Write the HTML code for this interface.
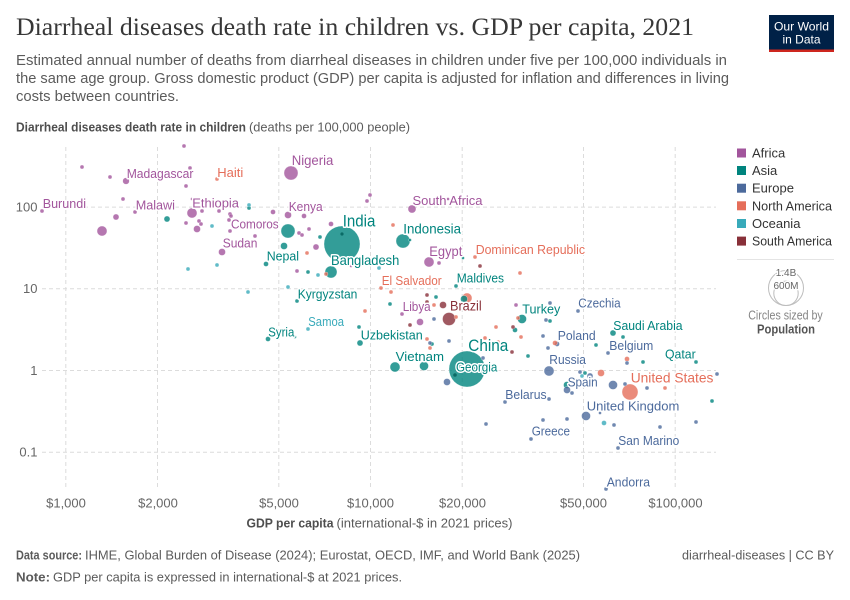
<!DOCTYPE html>
<html><head><meta charset="utf-8"><style>
html,body{margin:0;padding:0;background:#fff;}
svg{display:block;font-family:"Liberation Sans",sans-serif;}
.A{fill:#A2559C}.S{fill:#00847E}.E{fill:#4C6A9C}.N{fill:#E56E5A}.O{fill:#38AABA}.M{fill:#883039}
.pts circle{fill-opacity:.8;stroke:#fff;stroke-width:.4;stroke-opacity:.7}
.lab text{stroke:#fff;stroke-width:3;paint-order:stroke;stroke-linejoin:round;font-size:13px}
.lA{fill:#A2559C}.lS{fill:#00847E}.lE{fill:#4C6A9C}.lN{fill:#E56E5A}.lO{fill:#38AABA}.lM{fill:#883039}
.grid line{stroke:#dcdcdc;stroke-width:1;stroke-dasharray:4,3}
</style></head><body>
<svg width="850" height="600" viewBox="0 0 850 600" xmlns="http://www.w3.org/2000/svg">
<rect width="850" height="600" fill="#fff"/>
<!-- Header -->
<text x="16" y="35" font-family="Liberation Serif" font-size="25" fill="#373737" textLength="678" lengthAdjust="spacingAndGlyphs">Diarrheal diseases death rate in children vs. GDP per capita, 2021</text>
<text x="16" y="65" font-size="15" fill="#5b5b5b" textLength="711" lengthAdjust="spacingAndGlyphs">Estimated annual number of deaths from diarrheal diseases in children under five per 100,000 individuals in</text>
<text x="16" y="83" font-size="15" fill="#5b5b5b" textLength="713" lengthAdjust="spacingAndGlyphs">the same age group. Gross domestic product (GDP) per capita is adjusted for inflation and differences in living</text>
<text x="16" y="101" font-size="15" fill="#5b5b5b" textLength="163" lengthAdjust="spacingAndGlyphs">costs between countries.</text>
<!-- Logo -->
<rect x="769" y="15" width="65" height="37" fill="#002147"/>
<rect x="769" y="49.5" width="65" height="2.5" fill="#ce261e"/>
<text x="801.5" y="30.5" font-size="12" fill="#fff" text-anchor="middle" textLength="55" lengthAdjust="spacingAndGlyphs">Our World</text>
<text x="801.5" y="43.5" font-size="12" fill="#fff" text-anchor="middle" textLength="38" lengthAdjust="spacingAndGlyphs">in Data</text>
<!-- Y axis title -->
<text x="16" y="131.5" font-size="13" font-weight="bold" fill="#4e4e4e" textLength="230" lengthAdjust="spacingAndGlyphs">Diarrheal diseases death rate in children</text>
<text x="249" y="131.5" font-size="13" fill="#5b5b5b" textLength="161" lengthAdjust="spacingAndGlyphs">(deaths per 100,000 people)</text>
<!-- Grid -->
<g class="grid">
<line x1="42" y1="207.1" x2="716" y2="207.1"/>
<line x1="42" y1="288.8" x2="716" y2="288.8"/>
<line x1="42" y1="370.5" x2="716" y2="370.5"/>
<line x1="42" y1="452.2" x2="716" y2="452.2"/>
<line x1="65.8" y1="147" x2="65.8" y2="488"/>
<line x1="157.5" y1="147" x2="157.5" y2="488"/>
<line x1="278.8" y1="147" x2="278.8" y2="488"/>
<line x1="370.5" y1="147" x2="370.5" y2="488"/>
<line x1="462.2" y1="147" x2="462.2" y2="488"/>
<line x1="583.5" y1="147" x2="583.5" y2="488"/>
<line x1="675.2" y1="147" x2="675.2" y2="488"/>
</g>
<!-- Y labels -->
<g font-size="13" fill="#666" text-anchor="end">
<text x="37.5" y="211.5">100</text>
<text x="37.5" y="293">10</text>
<text x="37.5" y="375">1</text>
<text x="37.5" y="456.5">0.1</text>
</g>
<!-- X labels -->
<g font-size="13" fill="#666" text-anchor="middle">
<text x="66" y="507.5">$1,000</text>
<text x="158" y="507.5">$2,000</text>
<text x="279" y="507.5">$5,000</text>
<text x="370.5" y="507.5">$10,000</text>
<text x="462.5" y="507.5">$20,000</text>
<text x="583.5" y="507.5">$50,000</text>
<text x="675.5" y="507.5">$100,000</text>
</g>
<text x="246.5" y="527.5" font-size="13" font-weight="bold" fill="#4e4e4e" textLength="87" lengthAdjust="spacingAndGlyphs">GDP per capita</text>
<text x="336.5" y="527.5" font-size="13" fill="#5b5b5b" textLength="176" lengthAdjust="spacingAndGlyphs">(international-$ in 2021 prices)</text>

<!-- Points -->
<g class="pts">
<!-- large -->
<circle class="S" cx="342" cy="244" r="18"/>
<circle class="S" cx="467" cy="369" r="18"/>
<circle class="N" cx="630" cy="392" r="8"/>
<circle class="S" cx="288" cy="231" r="7"/>
<circle class="S" cx="403" cy="241" r="7"/>
<circle class="A" cx="291" cy="173" r="7"/>
<circle class="M" cx="449" cy="319" r="6.5"/>
<circle class="S" cx="331" cy="272" r="6"/>
<circle class="A" cx="192" cy="213" r="5"/>
<circle class="A" cx="102" cy="231" r="5"/>
<circle class="A" cx="429" cy="262" r="5"/>
<circle class="E" cx="549" cy="371" r="5"/>
<circle class="S" cx="395" cy="367" r="5"/>
<circle class="N" cx="467" cy="298" r="5"/>
<circle class="S" cx="424" cy="366" r="4.5"/>
<circle class="S" cx="522" cy="319" r="4.5"/>
<circle class="E" cx="613" cy="385" r="4.5"/>
<circle class="E" cx="586" cy="416" r="4.5"/>
<circle class="A" cx="412" cy="209" r="4"/>
<!-- medium -->
<circle class="A" cx="222" cy="252" r="3.5"/>
<circle class="A" cx="197" cy="229" r="3.5"/>
<circle class="A" cx="288" cy="215" r="3.5"/>
<circle class="A" cx="420" cy="322" r="3.5"/>
<circle class="S" cx="284" cy="246" r="3.5"/>
<circle class="S" cx="464" cy="299" r="3.5"/>
<circle class="S" cx="567" cy="385" r="3.5"/>
<circle class="E" cx="447" cy="382" r="3.5"/>
<circle class="E" cx="567" cy="390" r="3.5"/>
<circle class="M" cx="443" cy="305" r="3.5"/>
<circle class="N" cx="601" cy="373" r="3.5"/>
<circle class="A" cx="126" cy="181" r="3.3"/>
<circle class="A" cx="116" cy="217" r="3"/>
<circle class="A" cx="316" cy="247" r="3"/>
<circle class="S" cx="167" cy="219" r="3"/>
<circle class="S" cx="360" cy="343" r="3"/>
<circle class="S" cx="613" cy="333" r="3"/>
<circle class="E" cx="590" cy="376" r="3"/>
<circle class="A" cx="273" cy="212" r="2.5"/>
<circle class="A" cx="304" cy="216" r="2.5"/>
<circle class="A" cx="331" cy="224" r="2.5"/>
<circle class="S" cx="266" cy="264" r="2.5"/>
<circle class="S" cx="268" cy="339" r="2.5"/>
<circle class="S" cx="515" cy="330" r="2.5"/>
<circle class="E" cx="557" cy="344" r="2.5"/>
<circle class="N" cx="555" cy="343" r="2.5"/>
<circle class="N" cx="627" cy="359" r="2.5"/>
<circle class="O" cx="604" cy="423" r="2.5"/>
<!-- small Africa -->
<circle class="A" cx="184" cy="146" r="2"/>
<circle class="A" cx="82" cy="167" r="2"/>
<circle class="A" cx="190" cy="168" r="2"/>
<circle class="A" cx="110" cy="177" r="2"/>
<circle class="A" cx="186" cy="186" r="2"/>
<circle class="A" cx="123" cy="199" r="2"/>
<circle class="A" cx="192" cy="199" r="1.5"/>
<circle class="A" cx="42" cy="211" r="2"/>
<circle class="A" cx="135" cy="212" r="2"/>
<circle class="A" cx="202" cy="211" r="2"/>
<circle class="A" cx="219" cy="211" r="2"/>
<circle class="A" cx="230" cy="214" r="2"/>
<circle class="A" cx="231" cy="216" r="2"/>
<circle class="A" cx="186" cy="223" r="2"/>
<circle class="A" cx="199" cy="221" r="2"/>
<circle class="A" cx="201" cy="224" r="2"/>
<circle class="A" cx="229" cy="220" r="2"/>
<circle class="A" cx="230" cy="231" r="2"/>
<circle class="A" cx="255" cy="236" r="2"/>
<circle class="A" cx="370" cy="195" r="2"/>
<circle class="A" cx="367" cy="201" r="2"/>
<circle class="A" cx="448" cy="199" r="1.5"/>
<circle class="A" cx="309" cy="229" r="2"/>
<circle class="A" cx="299" cy="233" r="2"/>
<circle class="A" cx="302" cy="235" r="2"/>
<circle class="A" cx="297" cy="271" r="2"/>
<circle class="A" cx="351" cy="266" r="1.5"/>
<circle class="A" cx="439" cy="263" r="2"/>
<circle class="A" cx="402" cy="314" r="2"/>
<circle class="A" cx="516" cy="305" r="2"/>
<!-- small Asia -->
<circle class="S" cx="249" cy="208" r="2"/>
<circle class="S" cx="320" cy="237" r="2"/>
<circle class="S" cx="410" cy="240" r="1.5"/>
<circle class="S" cx="308" cy="272" r="2"/>
<circle class="S" cx="463" cy="258" r="1.5"/>
<circle class="S" cx="297" cy="301" r="2"/>
<circle class="S" cx="456" cy="286" r="2"/>
<circle class="S" cx="390" cy="304" r="2"/>
<circle class="S" cx="436" cy="297" r="2"/>
<circle class="S" cx="359" cy="327" r="2"/>
<circle class="S" cx="295" cy="337" r="1.5"/>
<circle class="S" cx="432" cy="344" r="2"/>
<circle class="S" cx="550" cy="321" r="2"/>
<circle class="S" cx="528" cy="356" r="2"/>
<circle class="S" cx="623" cy="337" r="2"/>
<circle class="S" cx="596" cy="345" r="2"/>
<circle class="S" cx="643" cy="362" r="2"/>
<circle class="S" cx="696" cy="362" r="2"/>
<circle class="S" cx="585" cy="373" r="2"/>
<circle class="S" cx="712" cy="401" r="2"/>
<!-- small Europe -->
<circle class="E" cx="434" cy="319" r="2"/>
<circle class="E" cx="430" cy="343" r="2"/>
<circle class="E" cx="449" cy="341" r="2"/>
<circle class="E" cx="550" cy="303" r="2"/>
<circle class="E" cx="578" cy="311" r="2"/>
<circle class="E" cx="546" cy="320" r="2"/>
<circle class="E" cx="543" cy="336" r="2"/>
<circle class="E" cx="548" cy="348" r="2"/>
<circle class="E" cx="483" cy="358" r="2"/>
<circle class="E" cx="580" cy="372" r="2"/>
<circle class="E" cx="608" cy="353" r="2"/>
<circle class="E" cx="627" cy="363" r="2"/>
<circle class="E" cx="717" cy="374" r="2"/>
<circle class="E" cx="625" cy="384" r="2"/>
<circle class="E" cx="647" cy="388" r="2"/>
<circle class="E" cx="572" cy="393" r="2"/>
<circle class="E" cx="549" cy="399" r="2"/>
<circle class="E" cx="505" cy="402" r="2"/>
<circle class="E" cx="600" cy="413" r="1.5"/>
<circle class="E" cx="614" cy="425" r="2"/>
<circle class="E" cx="543" cy="420" r="2"/>
<circle class="E" cx="567" cy="419" r="2"/>
<circle class="E" cx="486" cy="424" r="2"/>
<circle class="E" cx="531" cy="439" r="2"/>
<circle class="E" cx="660" cy="427" r="2"/>
<circle class="E" cx="696" cy="422" r="2"/>
<circle class="E" cx="618" cy="448" r="2"/>
<circle class="E" cx="606" cy="489" r="2"/>
<!-- small North America -->
<circle class="N" cx="217" cy="179" r="2"/>
<circle class="N" cx="393" cy="225" r="2"/>
<circle class="N" cx="307" cy="253" r="2"/>
<circle class="N" cx="326" cy="274" r="2"/>
<circle class="N" cx="475" cy="257" r="2"/>
<circle class="N" cx="520" cy="273" r="2"/>
<circle class="N" cx="381" cy="288" r="2"/>
<circle class="N" cx="391" cy="292" r="2"/>
<circle class="N" cx="434" cy="305" r="2"/>
<circle class="N" cx="365" cy="311" r="2"/>
<circle class="N" cx="456" cy="317" r="2"/>
<circle class="N" cx="427" cy="339" r="2"/>
<circle class="N" cx="430" cy="348" r="2"/>
<circle class="N" cx="518" cy="318" r="2"/>
<circle class="N" cx="496" cy="327" r="2"/>
<circle class="N" cx="521" cy="337" r="2"/>
<circle class="N" cx="485" cy="338" r="2"/>
<circle class="N" cx="498" cy="342" r="2"/>
<circle class="N" cx="665" cy="388" r="2"/>
<!-- small Oceania -->
<circle class="O" cx="249" cy="205" r="2"/>
<circle class="O" cx="212" cy="226" r="2"/>
<circle class="O" cx="188" cy="269" r="2"/>
<circle class="O" cx="217" cy="265" r="2"/>
<circle class="O" cx="318" cy="275" r="2"/>
<circle class="O" cx="379" cy="268" r="2"/>
<circle class="O" cx="288" cy="287" r="2"/>
<circle class="O" cx="248" cy="292" r="2"/>
<circle class="O" cx="308" cy="329" r="2"/>
<circle class="O" cx="582" cy="376" r="2"/>
<!-- small South America -->
<circle class="M" cx="480" cy="266" r="2"/>
<circle class="M" cx="427" cy="295" r="2"/>
<circle class="M" cx="427" cy="302" r="2"/>
<circle class="M" cx="410" cy="325" r="2"/>
<circle class="M" cx="513" cy="327" r="2"/>
<circle class="M" cx="512" cy="352" r="2"/>
<!-- dark dots on big circles -->
<circle cx="342" cy="234" r="1.6" style="fill:#005f5a;stroke:none"/>
<circle cx="455" cy="375" r="1.8" style="fill:#005f5a;stroke:none"/>
</g>

<!-- Labels -->
<g class="lab">
<text class="lA" x="291.7" y="165" style="font-size:14px" textLength="41.7" lengthAdjust="spacingAndGlyphs">Nigeria</text>
<text class="lA" x="126.7" y="178" textLength="66.7" lengthAdjust="spacingAndGlyphs">Madagascar</text>
<text class="lN" x="217.3" y="177" textLength="26" lengthAdjust="spacingAndGlyphs">Haiti</text>
<text class="lA" x="42.7" y="208" textLength="43.3" lengthAdjust="spacingAndGlyphs">Burundi</text>
<text class="lA" x="135.7" y="209.5" textLength="39.3" lengthAdjust="spacingAndGlyphs">Malawi</text>
<text class="lA" x="192.3" y="207.5" textLength="46.7" lengthAdjust="spacingAndGlyphs">Ethiopia</text>
<text class="lA" x="288.7" y="211" textLength="34" lengthAdjust="spacingAndGlyphs">Kenya</text>
<text class="lA" x="231" y="228.5" textLength="47.7" lengthAdjust="spacingAndGlyphs">Comoros</text>
<text class="lS" x="342.7" y="226.7" style="font-size:16.5px" textLength="32.7" lengthAdjust="spacingAndGlyphs">India</text>
<text class="lS" x="403.3" y="233.3" style="font-size:14px" textLength="57.7" lengthAdjust="spacingAndGlyphs">Indonesia</text>
<text class="lA" x="412.5" y="205" textLength="70" lengthAdjust="spacingAndGlyphs">South Africa</text>
<text class="lA" x="222.7" y="247.7" textLength="34.7" lengthAdjust="spacingAndGlyphs">Sudan</text>
<text class="lS" x="266.7" y="260.7" textLength="32.3" lengthAdjust="spacingAndGlyphs">Nepal</text>
<text class="lS" x="331" y="265" style="font-size:14px" textLength="68.3" lengthAdjust="spacingAndGlyphs">Bangladesh</text>
<text class="lA" x="429.3" y="256" style="font-size:14px" textLength="33" lengthAdjust="spacingAndGlyphs">Egypt</text>
<text class="lN" x="475.7" y="254" textLength="109.3" lengthAdjust="spacingAndGlyphs">Dominican Republic</text>
<text class="lN" x="381.7" y="285" textLength="60" lengthAdjust="spacingAndGlyphs">El Salvador</text>
<text class="lS" x="456.7" y="282.7" textLength="47.3" lengthAdjust="spacingAndGlyphs">Maldives</text>
<text class="lS" x="297.7" y="298.5" textLength="59.7" lengthAdjust="spacingAndGlyphs">Kyrgyzstan</text>
<text class="lA" x="402.7" y="311" textLength="28" lengthAdjust="spacingAndGlyphs">Libya</text>
<text class="lM" x="450" y="310.7" style="font-size:14px" textLength="31.7" lengthAdjust="spacingAndGlyphs">Brazil</text>
<text class="lS" x="522.3" y="313.5" textLength="38" lengthAdjust="spacingAndGlyphs">Turkey</text>
<text class="lE" x="578.3" y="307.7" textLength="42.3" lengthAdjust="spacingAndGlyphs">Czechia</text>
<text class="lS" x="613.3" y="330" textLength="69.3" lengthAdjust="spacingAndGlyphs">Saudi Arabia</text>
<text class="lO" x="308.3" y="326" textLength="35.7" lengthAdjust="spacingAndGlyphs">Samoa</text>
<text class="lS" x="268.3" y="336.5" textLength="26" lengthAdjust="spacingAndGlyphs">Syria</text>
<text class="lS" x="360.7" y="339.5" textLength="62" lengthAdjust="spacingAndGlyphs">Uzbekistan</text>
<text class="lS" x="395.7" y="361" textLength="48.3" lengthAdjust="spacingAndGlyphs">Vietnam</text>
<text class="lE" x="557.7" y="340" textLength="38" lengthAdjust="spacingAndGlyphs">Poland</text>
<text class="lS" x="468.3" y="351" style="font-size:16.5px" textLength="40" lengthAdjust="spacingAndGlyphs">China</text>
<text class="lE" x="609.3" y="350" textLength="44" lengthAdjust="spacingAndGlyphs">Belgium</text>
<text class="lS" x="665" y="358.5" textLength="30.7" lengthAdjust="spacingAndGlyphs">Qatar</text>
<text class="lE" x="549.3" y="364" textLength="36.7" lengthAdjust="spacingAndGlyphs">Russia</text>
<text class="lS" x="456" y="371.7" textLength="41.3" lengthAdjust="spacingAndGlyphs">Georgia</text>
<text class="lN" x="630.7" y="382.7" style="font-size:14px" textLength="82.7" lengthAdjust="spacingAndGlyphs">United States</text>
<text class="lE" x="567.7" y="386.5" textLength="30" lengthAdjust="spacingAndGlyphs">Spain</text>
<text class="lE" x="505.3" y="399" textLength="41.3" lengthAdjust="spacingAndGlyphs">Belarus</text>
<text class="lE" x="586.7" y="410.7" textLength="92.7" lengthAdjust="spacingAndGlyphs">United Kingdom</text>
<text class="lE" x="531.7" y="435.7" textLength="38.3" lengthAdjust="spacingAndGlyphs">Greece</text>
<text class="lE" x="618.3" y="445" textLength="61" lengthAdjust="spacingAndGlyphs">San Marino</text>
<text class="lE" x="606.7" y="486.5" textLength="43.3" lengthAdjust="spacingAndGlyphs">Andorra</text>
</g>

<!-- Legend -->
<g font-size="13" fill="#333">
<rect x="737" y="148.5" width="9" height="9" class="A"/>
<text x="752" y="157.5">Africa</text>
<rect x="737" y="166" width="9" height="9" class="S"/>
<text x="752" y="175">Asia</text>
<rect x="737" y="183.7" width="9" height="9" class="E"/>
<text x="752" y="192.7">Europe</text>
<rect x="737" y="201.3" width="9" height="9" class="N"/>
<text x="752" y="210.3" textLength="80" lengthAdjust="spacingAndGlyphs">North America</text>
<rect x="737" y="219" width="9" height="9" class="O"/>
<text x="752" y="228">Oceania</text>
<rect x="737" y="236.6" width="9" height="9" class="M"/>
<text x="752" y="245.6" textLength="80" lengthAdjust="spacingAndGlyphs">South America</text>
</g>
<line x1="737" y1="259.5" x2="834" y2="259.5" stroke="#e4e4e4" stroke-width="1"/>
<circle cx="786" cy="288" r="17.5" fill="none" stroke="#bdbdbd" stroke-width="1"/>
<circle cx="786" cy="293.3" r="12.2" fill="none" stroke="#bdbdbd" stroke-width="1"/>
<g font-size="10" fill="#666" text-anchor="middle" stroke="#fff" stroke-width="2.5" paint-order="stroke">
<text x="786" y="276">1.4B</text>
<text x="786" y="289">600M</text>
</g>
<text x="785.5" y="319.5" font-size="12.5" fill="#858585" text-anchor="middle" textLength="74.5" lengthAdjust="spacingAndGlyphs">Circles sized by</text>
<text x="786" y="333.5" font-size="13" font-weight="bold" fill="#555" text-anchor="middle" textLength="58" lengthAdjust="spacingAndGlyphs">Population</text>

<!-- Footer -->
<text x="16" y="559.5" font-size="13" font-weight="bold" fill="#5b5b5b" textLength="66" lengthAdjust="spacingAndGlyphs">Data source:</text>
<text x="85" y="559.5" font-size="13" fill="#5b5b5b" textLength="495" lengthAdjust="spacingAndGlyphs">IHME, Global Burden of Disease (2024); Eurostat, OECD, IMF, and World Bank (2025)</text>
<text x="834" y="559.5" font-size="13" fill="#5b5b5b" text-anchor="end" textLength="152" lengthAdjust="spacingAndGlyphs">diarrheal-diseases | CC BY</text>
<text x="16" y="581.5" font-size="13" font-weight="bold" fill="#5b5b5b" textLength="34" lengthAdjust="spacingAndGlyphs">Note:</text>
<text x="53" y="581.5" font-size="13" fill="#5b5b5b" textLength="349" lengthAdjust="spacingAndGlyphs">GDP per capita is expressed in international-$ at 2021 prices.</text>
</svg>
</body></html>
